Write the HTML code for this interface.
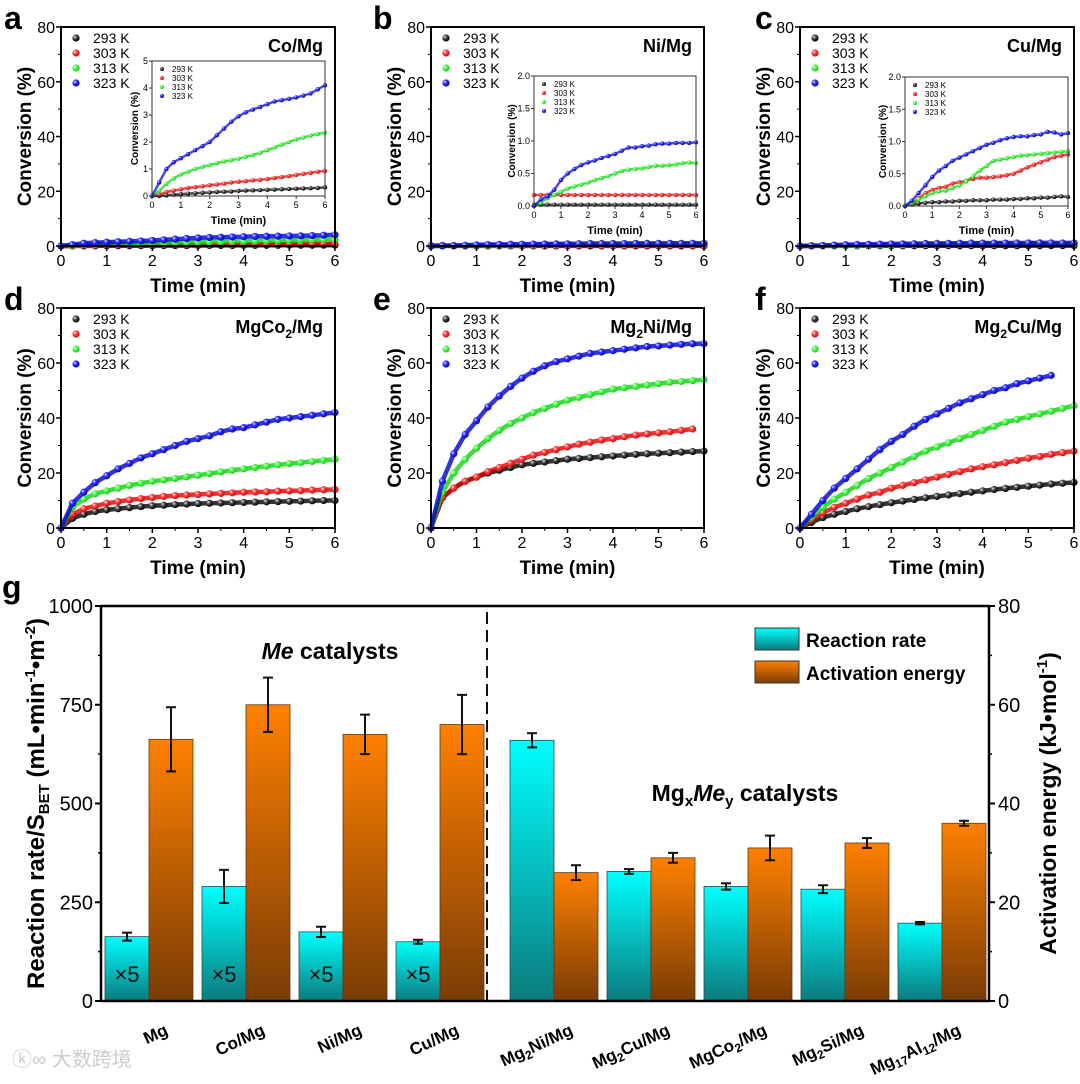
<!DOCTYPE html>
<html><head><meta charset="utf-8">
<style>
html,body{margin:0;padding:0;background:#fff;}
svg{display:block;font-family:"Liberation Sans",Arial,sans-serif;}
</style></head>
<body>
<svg id="fig" width="1080" height="1084" viewBox="0 0 1080 1084" xmlns="http://www.w3.org/2000/svg">
<defs>
<radialGradient id="gk" cx="35%" cy="35%" r="65%"><stop offset="0" stop-color="#fff"/><stop offset="0.35" stop-color="#555"/><stop offset="1" stop-color="#000"/></radialGradient>
<radialGradient id="gr" cx="35%" cy="35%" r="65%"><stop offset="0" stop-color="#fff"/><stop offset="0.35" stop-color="#ff5050"/><stop offset="1" stop-color="#e00000"/></radialGradient>
<radialGradient id="gg" cx="35%" cy="35%" r="65%"><stop offset="0" stop-color="#fff"/><stop offset="0.35" stop-color="#60ff60"/><stop offset="1" stop-color="#10d010"/></radialGradient>
<radialGradient id="gb" cx="35%" cy="35%" r="65%"><stop offset="0" stop-color="#fff"/><stop offset="0.35" stop-color="#3a3aff"/><stop offset="1" stop-color="#0000c8"/></radialGradient>
<linearGradient id="cyanG" x1="0" y1="0" x2="0" y2="1"><stop offset="0" stop-color="#00ffff"/><stop offset="1" stop-color="#0b7b7e"/></linearGradient>
<linearGradient id="oranG" x1="0" y1="0" x2="0" y2="1"><stop offset="0" stop-color="#ff8000"/><stop offset="1" stop-color="#7a3c06"/></linearGradient>
</defs>
<text x="12" y="1066" font-size="20" fill="#ccc" font-family="'Liberation Sans','Noto Sans CJK SC',sans-serif">ⓚ∞ 大数跨境</text>
</svg>
<script>
// ---------- time-course data (t = 0, 0.25, 0.5 ... min) ----------
const tStep = 0.25;
const temps = ["293 K","303 K","313 K","323 K"];
const coMg_293 = [0,0,0.02,0.05,0.07,0.09,0.1,0.12,0.13,0.15,0.16,0.17,0.19,0.2,0.21,0.22,0.23,0.24,0.25,0.26,0.27,0.28,0.29,0.3,0.32];
const coMg_303 = [0,0.05,0.15,0.2,0.25,0.3,0.33,0.36,0.4,0.43,0.46,0.5,0.53,0.55,0.58,0.6,0.63,0.67,0.7,0.74,0.78,0.82,0.86,0.9,0.93];
const coMg_313 = [0,0.2,0.45,0.65,0.8,0.9,1.0,1.08,1.15,1.22,1.28,1.33,1.38,1.45,1.52,1.6,1.7,1.8,1.9,2.0,2.1,2.17,2.24,2.3,2.35];
const coMg_323 = [0,0.5,1.0,1.25,1.4,1.55,1.7,1.85,2.0,2.25,2.5,2.75,2.95,3.1,3.2,3.3,3.4,3.5,3.55,3.6,3.65,3.72,3.8,3.95,4.1];
const niMg_293 = [0.02,0.02,0.02,0.02,0.02,0.02,0.02,0.02,0.02,0.02,0.02,0.02,0.02,0.02,0.02,0.02,0.02,0.02,0.02,0.02,0.02,0.02,0.02,0.02,0.02];
const niMg_303 = [0.17,0.17,0.17,0.17,0.17,0.17,0.17,0.17,0.17,0.17,0.17,0.17,0.17,0.17,0.17,0.17,0.17,0.17,0.17,0.17,0.17,0.17,0.17,0.17,0.17];
const niMg_313 = [0,0.05,0.12,0.17,0.22,0.27,0.3,0.33,0.36,0.4,0.43,0.46,0.5,0.54,0.56,0.57,0.58,0.6,0.62,0.62,0.63,0.64,0.66,0.67,0.66];
const niMg_323 = [0,0.1,0.15,0.25,0.4,0.5,0.57,0.63,0.67,0.7,0.74,0.77,0.8,0.85,0.9,0.9,0.92,0.93,0.95,0.96,0.96,0.97,0.97,0.97,0.98];
const cuMg_293 = [0,0.02,0.04,0.05,0.06,0.06,0.07,0.07,0.08,0.08,0.09,0.09,0.09,0.1,0.1,0.1,0.11,0.11,0.12,0.12,0.13,0.13,0.14,0.15,0.14];
const cuMg_303 = [0,0.03,0.12,0.2,0.25,0.28,0.3,0.35,0.37,0.39,0.42,0.44,0.44,0.45,0.46,0.48,0.5,0.55,0.6,0.64,0.68,0.72,0.76,0.78,0.8];
const cuMg_313 = [0,0.05,0.1,0.15,0.2,0.23,0.24,0.28,0.32,0.38,0.46,0.55,0.62,0.7,0.72,0.74,0.76,0.78,0.79,0.8,0.81,0.82,0.83,0.84,0.85];
const cuMg_323 = [0,0.08,0.2,0.32,0.45,0.55,0.62,0.7,0.75,0.8,0.85,0.9,0.95,0.98,1.02,1.05,1.07,1.08,1.08,1.1,1.11,1.15,1.14,1.11,1.13];
const mgCo2_293 = [0,3.5,5,6,6.6,7,7.4,7.8,8.1,8.3,8.5,8.7,8.9,9,9.1,9.2,9.3,9.4,9.5,9.6,9.7,9.8,9.9,10,10];
const mgCo2_303 = [0,5,7,8,9,9.6,10.2,10.7,11.1,11.5,11.8,12,12.2,12.4,12.6,12.8,13,13.1,13.2,13.4,13.5,13.6,13.8,13.9,14];
const mgCo2_313 = [0,7.5,10.5,12.5,13.5,14.5,15.5,16.3,17,17.5,18,18.6,19.2,19.8,20.4,21,21.5,22,22.5,23,23.4,23.8,24.2,24.6,25];
const mgCo2_323 = [0,9,13,16.5,19,21.5,23.5,25.5,27,28.5,30,31.5,32.5,33.5,35,36,36.5,37.5,38.5,39.5,40,40.5,41,41.5,42];
const mg2Ni_293 = [0,11,14.5,17,18.5,20,21,22,23,23.5,24,24.5,25,25.3,25.6,25.9,26.2,26.5,26.8,27,27.2,27.4,27.6,27.8,28];
const mg2Ni_303 = [0,11,14.5,17,18.5,20.5,22,23.5,25,26.5,27.5,28.5,29.5,30.5,31.2,32,32.5,33.2,33.8,34.2,34.6,35,35.5,36];
const mg2Ni_313 = [0,13,20,25,29,32.5,35.5,38,40,42,43.5,45,46.5,47.5,48.5,49.5,50.5,51,51.5,52,52.5,53,53.3,53.6,54];
const mg2Ni_323 = [0,17,27,34,39,44,48,51.5,54.5,57,59,60.5,61.5,62.5,63.5,64,64.5,65,65.5,66,66.2,66.5,66.8,67,67];
const mg2Cu_293 = [0,2,3.8,5,6,7,7.8,8.5,9.2,9.8,10.4,11,11.5,12,12.5,13,13.5,14,14.4,14.8,15.2,15.6,16,16.3,16.6];
const mg2Cu_303 = [0,3,5.5,7.5,9,10.5,12,13,14.5,15.5,16.5,17.5,18.5,19.5,20.5,21.5,22.3,23,23.8,24.6,25.4,26,26.8,27.4,28];
const mg2Cu_313 = [0,4,7.5,10.5,13,15.5,18,20,22,24,26,28,29.5,31,32.5,34,35.5,37,38.5,39.5,40.5,41.5,42.5,43.5,44.5];
const mg2Cu_323 = [0,5,10,14.5,18,21.5,25,28.5,31.5,34,37,39.5,41.5,43.5,45.5,47,48.5,50,51,52.5,53.5,54.5,55.5];
const xTicks = ["0","1","2","3","4","5","6"];
const mainYTicks = ["0","20","40","60","80"];
// ---------- bar chart data ----------
const categories = ["Mg","Co/Mg","Ni/Mg","Cu/Mg","Mg2Ni/Mg","Mg2Cu/Mg","MgCo2/Mg","Mg2Si/Mg","Mg17Al12/Mg"];
const rateValues = [163,290,175,150,660,328,290,283,197];
const rateErrors = [10,42,13,5,18,6,8,10,3];
const energyValues = [53,60,54,56,26,29,31,32,36];
const energyErrors = [6.5,5.5,4,6,1.5,1,2.5,1,0.5];
const leftTicks = ["0","250","500","750","1000"];
const rightTicks = ["0","20","40","60","80"];

const NS="http://www.w3.org/2000/svg";
const svg=document.getElementById('fig');
function mk(tag,attrs,parent){const e=document.createElementNS(NS,tag);for(const k in attrs)e.setAttribute(k,attrs[k]);(parent||svg).appendChild(e);return e;}
const grads=["url(#gk)","url(#gr)","url(#gg)","url(#gb)"];
const cols=["#000","#e00000","#10d010","#0000d0"];

function drawPanel(p){
  const g=mk('g',{});
  
  
  const L=p.x0,R=p.x1,T=p.y0,B=p.y1;
  const xs=t=>L+t/6*(R-L);
  const ys=v=>B-v/p.ymax*(B-T);
  const lt=mk('text',{x:p.lx,y:T+2,'font-size':32,'font-weight':'bold'},g);lt.textContent=p.letter;
  
  p.series.forEach((arr,si)=>{
    const sg=mk('g',{},g);
    
    
    let pts=arr.map((v,i)=>xs(i*tStep).toFixed(1)+','+Math.max(T,ys(v)).toFixed(1)).join(' ');
    mk('polyline',{points:pts,fill:'none',stroke:cols[si],'stroke-width':4.5,opacity:0.8},sg);
    arr.forEach((v,i)=>{const c=mk('circle',{cx:xs(i*tStep),cy:Math.max(T,ys(v)),r:3.6,fill:grads[si]},sg);
      });
  });
  const fr=mk('rect',{x:L,y:T,width:R-L,height:B-T,fill:'none',stroke:'#000','stroke-width':2},g);
  
  xTicks.forEach((s,i)=>{const x=xs(i);mk('line',{x1:x,x2:x,y1:B,y2:B+5,stroke:'#000','stroke-width':1.5},g);
    if(i<6)mk('line',{x1:xs(i+0.5),x2:xs(i+0.5),y1:B,y2:B+3,stroke:'#000','stroke-width':1},g);
    const t=mk('text',{x:x,y:B+20,'font-size':16,'text-anchor':'middle'},g);t.textContent=s;
    });
  mainYTicks.forEach((s,i)=>{const y=ys(i*20);mk('line',{x1:L-5,x2:L,y1:y,y2:y,stroke:'#000','stroke-width':1.5},g);
    if(i<4)mk('line',{x1:L-3,x2:L,y1:ys(i*20+10),y2:ys(i*20+10),stroke:'#000','stroke-width':1},g);
    const t=mk('text',{x:L-6,y:y+6,'font-size':16,'text-anchor':'end'},g);t.textContent=s;
    });
  const xt=mk('text',{x:(L+R)/2,y:B+46,'font-size':19,'font-weight':'bold','text-anchor':'middle'},g);xt.textContent='Time (min)';
  
  const yt=mk('text',{x:0,y:0,'font-size':19,'font-weight':'bold','text-anchor':'middle',transform:`translate(${L-30},${(T+B)/2}) rotate(-90)`},g);yt.textContent='Conversion (%)';
  
  const tt=mk('text',{x:R-12,y:T+25,'font-size':18,'font-weight':'bold','text-anchor':'end'},g);
  tt.innerHTML=p.title;
  
  const lg=mk('g',{},g);
  temps.forEach((s,i)=>{const y=T+11+i*15;mk('circle',{cx:L+15,cy:y,r:3.6,fill:grads[i]},lg);
    const t=mk('text',{x:L+32,y:y+5,'font-size':14},lg);t.textContent=s;
    });
  if(p.inset)drawInset(p,g);
}
function drawInset(p,g0){
  const q=p.inset;const g=mk('g',{},g0);
  
  const L=q.x0,R=q.x1,T=q.y0,B=q.y1;
  const xs=t=>L+t/6*(R-L);const ys=v=>B-v/q.ymax*(B-T);
  mk('rect',{x:L,y:T,width:R-L,height:B-T,fill:'#fff'},g);
  p.series.forEach((arr,si)=>{const sg=mk('g',{},g);
    
    
    mk('polyline',{points:arr.map((v,i)=>xs(i*tStep).toFixed(1)+','+ys(v).toFixed(1)).join(' '),fill:'none',stroke:cols[si],'stroke-width':2.5,opacity:0.7},sg);
    arr.forEach((v,i)=>{const c=mk('circle',{cx:xs(i*tStep),cy:ys(v),r:2.2,fill:grads[si]},sg);
      });});
  mk('rect',{x:L,y:T,width:R-L,height:B-T,fill:'none',stroke:'#333','stroke-width':1},g);
  xTicks.forEach((s,i)=>{const x=xs(i);mk('line',{x1:x,x2:x,y1:B,y2:B+3,stroke:'#333'},g);
    const t=mk('text',{x:x,y:B+12,'font-size':9,'text-anchor':'middle'},g);t.textContent=s;
    });
  q.ticks.forEach(s=>{const y=ys(parseFloat(s));mk('line',{x1:L-3,x2:L,y1:y,y2:y,stroke:'#333'},g);
    const t=mk('text',{x:L-4,y:y+3,'font-size':9,'text-anchor':'end'},g);t.textContent=s;
    });
  const xt=mk('text',{x:(L+R)/2,y:B+28,'font-size':11,'font-weight':'bold','text-anchor':'middle'},g);xt.textContent='Time (min)';
  
  const yt=mk('text',{x:0,y:0,'font-size':10,'font-weight':'bold','text-anchor':'middle',transform:`translate(${L-q.yo},${(T+B)/2}) rotate(-90)`},g);yt.textContent='Conversion (%)';
  
  temps.forEach((s,i)=>{const y=T+8+i*9;mk('circle',{cx:L+10,cy:y,r:2,fill:grads[i]},g);
    const t=mk('text',{x:L+20,y:y+3,'font-size':8},g);t.textContent=s;
    });
}
const C=[[61,335],[431,704],[800,1074]];const RW=[[27,246],[308,528]];
drawPanel({letter:'a',x0:C[0][0],x1:C[0][1],y0:RW[0][0],y1:RW[0][1],lx:4,ymax:80,title:'Co/Mg',series:[coMg_293,coMg_303,coMg_313,coMg_323],
  inset:{x0:152,x1:325,y0:61,y1:196,ymax:5,yo:14,ticks:["0","1","2","3","4","5"]}});
drawPanel({letter:'b',x0:C[1][0],x1:C[1][1],y0:RW[0][0],y1:RW[0][1],lx:373,ymax:80,title:'Ni/Mg',series:[niMg_293,niMg_303,niMg_313,niMg_323],
  inset:{x0:534,x1:696,y0:76,y1:206,ymax:2,yo:19,ticks:["0.0","0.5","1.0","1.5","2.0"]}});
drawPanel({letter:'c',x0:C[2][0],x1:C[2][1],y0:RW[0][0],y1:RW[0][1],lx:755,ymax:80,title:'Cu/Mg',series:[cuMg_293,cuMg_303,cuMg_313,cuMg_323],
  inset:{x0:905,x1:1068,y0:77,y1:206,ymax:2,yo:19,ticks:["0.0","0.5","1.0","1.5","2.0"]}});
drawPanel({letter:'d',x0:C[0][0],x1:C[0][1],y0:RW[1][0],y1:RW[1][1],lx:4,ymax:80,title:'MgCo<tspan font-size="12" dy="5">2</tspan><tspan dy="-5">/Mg</tspan>',series:[mgCo2_293,mgCo2_303,mgCo2_313,mgCo2_323]});
drawPanel({letter:'e',x0:C[1][0],x1:C[1][1],y0:RW[1][0],y1:RW[1][1],lx:373,ymax:80,title:'Mg<tspan font-size="12" dy="5">2</tspan><tspan dy="-5">Ni/Mg</tspan>',series:[mg2Ni_293,mg2Ni_303,mg2Ni_313,mg2Ni_323]});
drawPanel({letter:'f',x0:C[2][0],x1:C[2][1],y0:RW[1][0],y1:RW[1][1],lx:755,ymax:80,title:'Mg<tspan font-size="12" dy="5">2</tspan><tspan dy="-5">Cu/Mg</tspan>',series:[mg2Cu_293,mg2Cu_303,mg2Cu_313,mg2Cu_323]});

// ---------- panel g ----------
(function(){
  const g=mk('g',{});
  const L=101,R=989,T=606,B=1001,BW=44;
  const yL=v=>B-v/1000*(B-T);const yR=v=>B-v/80*(B-T);
  const cx=i=>149+i*97+(i>=4?17:0);
  const lt=mk('text',{x:2,y:598,'font-size':32,'font-weight':'bold'},g);lt.textContent='g';
  
  function err(x,y1,y2){mk('line',{x1:x,x2:x,y1:y1,y2:y2,stroke:'#111','stroke-width':2},g);
    mk('line',{x1:x-5,x2:x+5,y1:y1,y2:y1,stroke:'#111','stroke-width':2},g);
    mk('line',{x1:x-5,x2:x+5,y1:y2,y2:y2,stroke:'#111','stroke-width':2},g);}
  categories.forEach((c,i)=>{
    const b1=mk('rect',{x:cx(i)-BW,y:yL(rateValues[i]),width:BW,height:B-yL(rateValues[i]),fill:'url(#cyanG)',stroke:'#2a4a4a','stroke-width':0.8},g);
    
    err(cx(i)-BW/2,yL(rateValues[i]+rateErrors[i]),yL(rateValues[i]-rateErrors[i]));
    const b2=mk('rect',{x:cx(i),y:yR(energyValues[i]),width:BW,height:B-yR(energyValues[i]),fill:'url(#oranG)',stroke:'#5a3a1a','stroke-width':0.8},g);
    
    err(cx(i)+BW/2,yR(energyValues[i]+energyErrors[i]),yR(energyValues[i]-energyErrors[i]));
    if(i<4){const t=mk('text',{x:cx(i)-BW/2,y:982,'font-size':22,'text-anchor':'middle',fill:'#111'},g);t.textContent='×5';
      }
    const lab=mk('text',{x:0,y:0,'font-size':17,'font-weight':'bold','text-anchor':'end',transform:`translate(${cx(i)+20},${1034}) rotate(-25)`},g);
    lab.innerHTML=c.replace(/(\d+)/g,'<tspan font-size="12" dy="4">$1</tspan><tspan dy="-4">​</tspan>');
    
  });
  const dl=mk('line',{x1:487,x2:487,y1:T+6,y2:B,stroke:'#111','stroke-width':2,'stroke-dasharray':'12,6'},g);
  
  mk('line',{x1:L,x2:R,y1:T,y2:T,stroke:'#000','stroke-width':2.5},g);
  mk('line',{x1:L,x2:R,y1:B,y2:B,stroke:'#000','stroke-width':2.5},g);
  mk('line',{x1:L,x2:L,y1:T,y2:B,stroke:'#000','stroke-width':2.5},g);
  mk('line',{x1:R,x2:R,y1:T,y2:B,stroke:'#000','stroke-width':2.5},g);
  leftTicks.forEach((s,i)=>{const y=yL(i*250);mk('line',{x1:L-6,x2:L,y1:y,y2:y,stroke:'#000','stroke-width':2},g);
    if(i<4)mk('line',{x1:L-3,x2:L,y1:yL(i*250+125),y2:yL(i*250+125),stroke:'#000','stroke-width':1.5},g);
    const t=mk('text',{x:L-8,y:y+7,'font-size':20,'text-anchor':'end'},g);t.textContent=s;
    });
  rightTicks.forEach((s,i)=>{const y=yR(i*20);mk('line',{x1:R,x2:R+6,y1:y,y2:y,stroke:'#000','stroke-width':2},g);
    if(i<4)mk('line',{x1:R,x2:R+3,y1:yR(i*20+10),y2:yR(i*20+10),stroke:'#000','stroke-width':1.5},g);
    const t=mk('text',{x:R+9,y:y+7,'font-size':20},g);t.textContent=s;
    });
  const yt=mk('text',{x:0,y:0,'font-size':24,'font-weight':'bold','text-anchor':'middle',transform:`translate(44,${(T+B)/2}) rotate(-90)`},g);
  yt.innerHTML='Reaction rate/S<tspan font-size="15" dy="5">BET</tspan><tspan dy="-5"> (mL•min</tspan><tspan font-size="15" dy="-9">-1</tspan><tspan dy="9">•m</tspan><tspan font-size="15" dy="-9">-2</tspan><tspan dy="9">)</tspan>';
  
  const rt=mk('text',{x:0,y:0,'font-size':23,'font-weight':'bold','text-anchor':'middle',transform:`translate(1056,${(T+B)/2}) rotate(-90)`},g);
  rt.innerHTML='Activation energy (kJ•mol<tspan font-size="15" dy="-9">-1</tspan><tspan dy="9">)</tspan>';
  
  const a1=mk('text',{x:330,y:659,'font-size':23,'font-weight':'bold','text-anchor':'middle'},g);
  a1.innerHTML='<tspan font-style="italic">Me</tspan> catalysts';
  
  const a2=mk('text',{x:745,y:801,'font-size':23,'font-weight':'bold','text-anchor':'middle'},g);
  a2.innerHTML='Mg<tspan font-size="15" dy="5">x</tspan><tspan dy="-5" font-style="italic">Me</tspan><tspan font-size="15" dy="5">y</tspan><tspan dy="-5"> catalysts</tspan>';
  
  const lg=mk('g',{},g);
  mk('rect',{x:755,y:628,width:44,height:22,fill:'url(#cyanG)',stroke:'#333'},lg);
  mk('rect',{x:755,y:661,width:44,height:22,fill:'url(#oranG)',stroke:'#333'},lg);
  const l1=mk('text',{x:806,y:647,'font-size':19,'font-weight':'bold'},lg);l1.textContent='Reaction rate';
  
  const l2=mk('text',{x:806,y:680,'font-size':19,'font-weight':'bold'},lg);l2.textContent='Activation energy';
  
})();
</script>
</body></html>
